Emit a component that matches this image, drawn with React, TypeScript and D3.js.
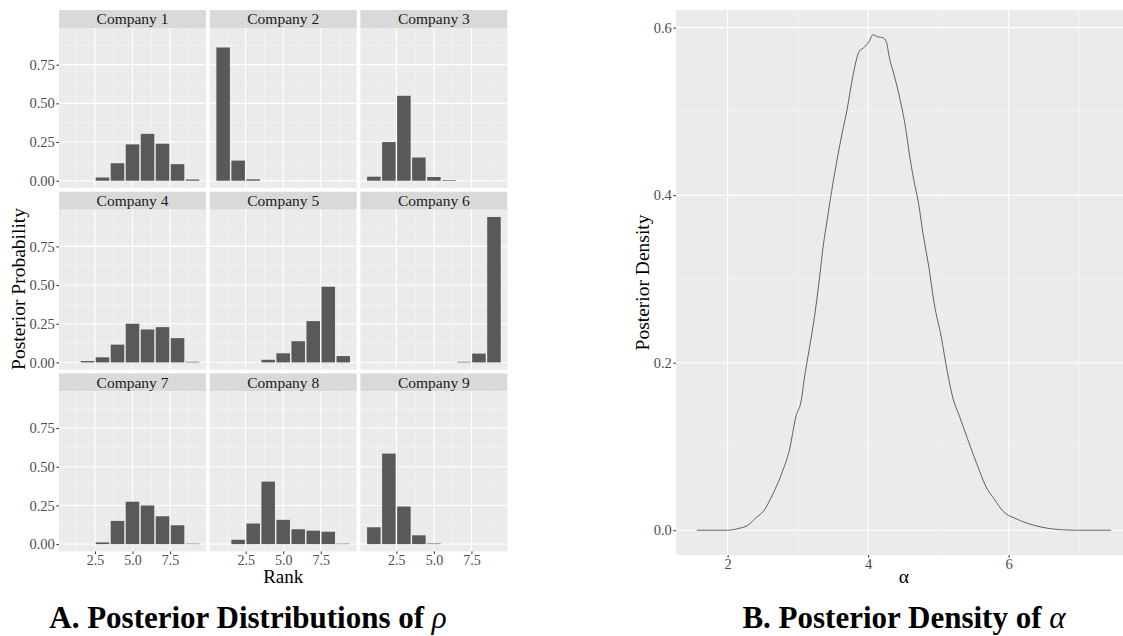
import { useEffect, useRef } from "react"
import * as d3 from "d3"

// Panel A data: posterior probability of each rank, per company
const companyNames = ["Company 1", "Company 2", "Company 3", "Company 4", "Company 5", "Company 6", "Company 7", "Company 8", "Company 9"]
const rankValues = [1, 2, 3, 4, 5, 6, 7, 8, 9]
const company1Probs = [0, 0, 0.021, 0.113, 0.235, 0.303, 0.239, 0.107, 0.008]
const company2Probs = [0.861, 0.13, 0.009, 0, 0, 0, 0, 0, 0]
const company3Probs = [0.026, 0.25, 0.549, 0.15, 0.024, 0.004, 0, 0, 0]
const company4Probs = [0, 0.009, 0.033, 0.115, 0.25, 0.213, 0.228, 0.157, 0.004]
const company5Probs = [0, 0, 0, 0.017, 0.059, 0.137, 0.267, 0.489, 0.041]
const company6Probs = [0, 0, 0, 0, 0, 0, 0.004, 0.057, 0.94]
const company7Probs = [0, 0, 0.011, 0.15, 0.274, 0.25, 0.18, 0.122, 0.003]
const company8Probs = [0, 0.028, 0.133, 0.404, 0.157, 0.096, 0.087, 0.08, 0.003]
const company9Probs = [0.109, 0.585, 0.243, 0.057, 0.004, 0, 0, 0, 0]
const companyProbs = [company1Probs, company2Probs, company3Probs, company4Probs, company5Probs, company6Probs, company7Probs, company8Probs, company9Probs]

const probTicks = [0, 0.25, 0.5, 0.75]
const probMinorTicks = [0.125, 0.375, 0.625, 0.875]
const rankTicks = [2.5, 5, 7.5]
const rankMinorTicks = [1.25, 3.75, 6.25, 8.75]

// Panel B data: posterior density of alpha
const alphaValues = [1.56, 2.0, 2.17, 2.29, 2.4, 2.51, 2.64, 2.78, 2.88, 2.97, 3.05, 3.09, 3.16, 3.23, 3.31, 3.36, 3.42, 3.46, 3.54, 3.63, 3.7, 3.78, 3.87, 3.95, 4.01, 4.07, 4.14, 4.21, 4.26, 4.3, 4.37, 4.44, 4.53, 4.6, 4.66, 4.71, 4.78, 4.87, 4.94, 5.04, 5.13, 5.2, 5.3, 5.42, 5.56, 5.68, 5.8, 5.92, 6.11, 6.34, 6.58, 6.77, 7.0, 7.46]
const densityValues = [0, 0, 0.0024, 0.006, 0.0148, 0.0227, 0.0426, 0.07, 0.096, 0.135, 0.156, 0.18, 0.2155, 0.251, 0.303, 0.339, 0.372, 0.394, 0.434, 0.474, 0.502, 0.541, 0.571, 0.577, 0.583, 0.5915, 0.589, 0.588, 0.583, 0.565, 0.5435, 0.5196, 0.482, 0.442, 0.414, 0.394, 0.355, 0.311, 0.271, 0.231, 0.188, 0.16, 0.136, 0.108, 0.0763, 0.0517, 0.0366, 0.0227, 0.0136, 0.0064, 0.002, 0.0005, 0, 0]

const alphaTicks = [2, 4, 6]
const alphaMinorTicks = [3, 5, 7]
const densityTicks = [0, 0.2, 0.4, 0.6]
const densityMinorTicks = [0.1, 0.3, 0.5]

const FONT = "'Liberation Serif', 'Times New Roman', serif"

const expand = (lo: number, hi: number) => {
    const pad = (hi - lo) * 0.05
    return [lo - pad, hi + pad]
}

export default function App() {
    const svgRef = useRef<SVGSVGElement>(null)

    useEffect(() => {
        document.body.style.margin = "0"
        const svg = d3.select(svgRef.current)
        svg.selectAll("*").remove()

        // styling helpers
        const drawGrid = (g: any, x: any, y: any, w: number, h: number, xMajor: number[], xMinor: number[], yMajor: number[], yMinor: number[]) => {
            g.append("rect").attr("width", w).attr("height", h).attr("fill", "#EBEBEB")
            g.append("g").selectAll("line").data(yMinor).join("line").attr("x1", 0).attr("x2", w)
                .attr("y1", (d: number) => y(d)).attr("y2", (d: number) => y(d))
                .attr("stroke", "#F7F7F7").attr("stroke-width", 0.55)
            g.append("g").selectAll("line").data(xMinor).join("line").attr("y1", 0).attr("y2", h)
                .attr("x1", (d: number) => x(d)).attr("x2", (d: number) => x(d))
                .attr("stroke", "#F7F7F7").attr("stroke-width", 0.55)
            g.append("g").selectAll("line").data(yMajor).join("line").attr("x1", 0).attr("x2", w)
                .attr("y1", (d: number) => y(d)).attr("y2", (d: number) => y(d))
                .attr("stroke", "#FFFFFF").attr("stroke-width", 1.1)
            g.append("g").selectAll("line").data(xMajor).join("line").attr("y1", 0).attr("y2", h)
                .attr("x1", (d: number) => x(d)).attr("x2", (d: number) => x(d))
                .attr("stroke", "#FFFFFF").attr("stroke-width", 1.1)
        }

        const styleAxis = (g: any, size: number) => {
            g.select(".domain").remove()
            g.selectAll(".tick line").attr("stroke", "#333333").attr("stroke-width", 1)
            g.selectAll(".tick text").attr("fill", "#4D4D4D").style("font-size", `${size}px`).style("font-family", FONT)
        }

        // ---------- Panel A: facet grid ----------
        const facetLeft = 59
        const facetTop = 10
        const panelW = 147
        const panelH = 160
        const stripH = 18
        const gap = 3.7

        const xRank = d3.scaleLinear().domain(expand(0.55, 9.45)).range([0, panelW])
        const maxProb = d3.max(companyProbs.flat()) as number
        const yProb = d3.scaleLinear().domain(expand(0, maxProb)).range([panelH, 0])
        const barW = xRank(0.9) - xRank(0)

        companyNames.forEach((name, i) => {
            const col = i % 3
            const row = Math.floor(i / 3)
            const gx = facetLeft + col * (panelW + gap)
            const gy = facetTop + row * (stripH + panelH + gap)

            const strip = svg.append("g").attr("transform", `translate(${gx},${gy})`)
            strip.append("rect").attr("width", panelW).attr("height", stripH).attr("fill", "#D9D9D9")
            strip.append("text").attr("x", panelW / 2).attr("y", stripH / 2).attr("dy", "0.35em")
                .attr("text-anchor", "middle").attr("fill", "#1A1A1A")
                .style("font-family", FONT).style("font-size", "15.5px").text(name)

            const panel = svg.append("g").attr("transform", `translate(${gx},${gy + stripH})`)
            drawGrid(panel, xRank, yProb, panelW, panelH, rankTicks, rankMinorTicks, probTicks, probMinorTicks)

            panel.append("g").selectAll("rect")
                .data(rankValues.map((r, k) => ({ rank: r, p: companyProbs[i][k] })).filter(d => d.p > 0))
                .join("rect")
                .attr("x", d => xRank(d.rank) - barW / 2)
                .attr("width", barW)
                .attr("y", d => yProb(d.p))
                .attr("height", d => yProb(0) - yProb(d.p))
                .attr("fill", "#595959")

            if (col === 0) {
                panel.append("g")
                    .call(d3.axisLeft(yProb).tickValues(probTicks).tickFormat(d3.format(".2f")).tickSize(2.7).tickPadding(1.5))
                    .call((g: any) => styleAxis(g, 14.5))
            }
            if (row === 2) {
                panel.append("g").attr("transform", `translate(0,${panelH})`)
                    .call(d3.axisBottom(xRank).tickValues(rankTicks).tickFormat(d3.format(".1f")).tickSize(2.7).tickPadding(0.5))
                    .call((g: any) => styleAxis(g, 14))
            }
        })

        svg.append("text").attr("transform", "translate(25,289) rotate(-90)")
            .attr("text-anchor", "middle").style("font-family", FONT).style("font-size", "19.5px")
            .text("Posterior Probability")
        svg.append("text").attr("x", facetLeft + (3 * panelW + 2 * gap) / 2).attr("y", 583)
            .attr("text-anchor", "middle").style("font-family", FONT).style("font-size", "19px")
            .text("Rank")

        // ---------- Panel B: density ----------
        const dLeft = 676
        const dTop = 10
        const dH = 545
        const xDom = expand(d3.min(alphaValues) as number, d3.max(alphaValues) as number)
        const yDom = expand(0, d3.max(densityValues) as number)
        const pxPerUnit = 70.25
        const dW = (xDom[1] - xDom[0]) * pxPerUnit
        const xAlpha = d3.scaleLinear().domain(xDom).range([0, dW])
        const yDens = d3.scaleLinear().domain(yDom).range([dH, 0])

        const dg = svg.append("g").attr("transform", `translate(${dLeft},${dTop})`)
        drawGrid(dg, xAlpha, yDens, dW, dH, alphaTicks, alphaMinorTicks, densityTicks, densityMinorTicks)

        const line = d3.line<number>()
            .x((_, k) => xAlpha(alphaValues[k]))
            .y(d => yDens(d))
            .curve(d3.curveMonotoneX)
        dg.append("path").datum(densityValues).attr("d", line)
            .attr("fill", "none").attr("stroke", "#333333").attr("stroke-width", 0.75)

        dg.append("g")
            .call(d3.axisLeft(yDens).tickValues(densityTicks).tickFormat(d3.format(".1f")).tickSize(2.7).tickPadding(1.5))
            .call((g: any) => styleAxis(g, 14.5))
        dg.append("g").attr("transform", `translate(0,${dH})`)
            .call(d3.axisBottom(xAlpha).tickValues(alphaTicks).tickFormat(d3.format("d")).tickSize(2.7).tickPadding(1))
            .call((g: any) => styleAxis(g, 14.5))

        svg.append("text").attr("transform", `translate(649,${dTop + dH / 2}) rotate(-90)`)
            .attr("text-anchor", "middle").style("font-family", FONT).style("font-size", "19.5px")
            .text("Posterior Density")
        svg.append("text").attr("x", dLeft + dW / 2).attr("y", 583)
            .attr("text-anchor", "middle").style("font-family", FONT).style("font-size", "19.5px")
            .text("α")

        // ---------- captions ----------
        const capA = svg.append("text").attr("x", 248).attr("y", 628).attr("text-anchor", "middle")
            .style("font-family", FONT).style("font-size", "31px").style("font-weight", 700)
        capA.append("tspan").text("A. Posterior Distributions of ")
        capA.append("tspan").style("font-style", "italic").style("font-weight", 400).text("ρ")

        const capB = svg.append("text").attr("x", dLeft + dW / 2).attr("y", 628).attr("text-anchor", "middle")
            .style("font-family", FONT).style("font-size", "31px").style("font-weight", 700)
        capB.append("tspan").text("B. Posterior Density of ")
        capB.append("tspan").style("font-style", "italic").style("font-weight", 400).text("α")
    }, [])

    return (
        <svg ref={svgRef} width={1123} height={636} style={{ display: "block", background: "#FFFFFF" }} />
    )
}
